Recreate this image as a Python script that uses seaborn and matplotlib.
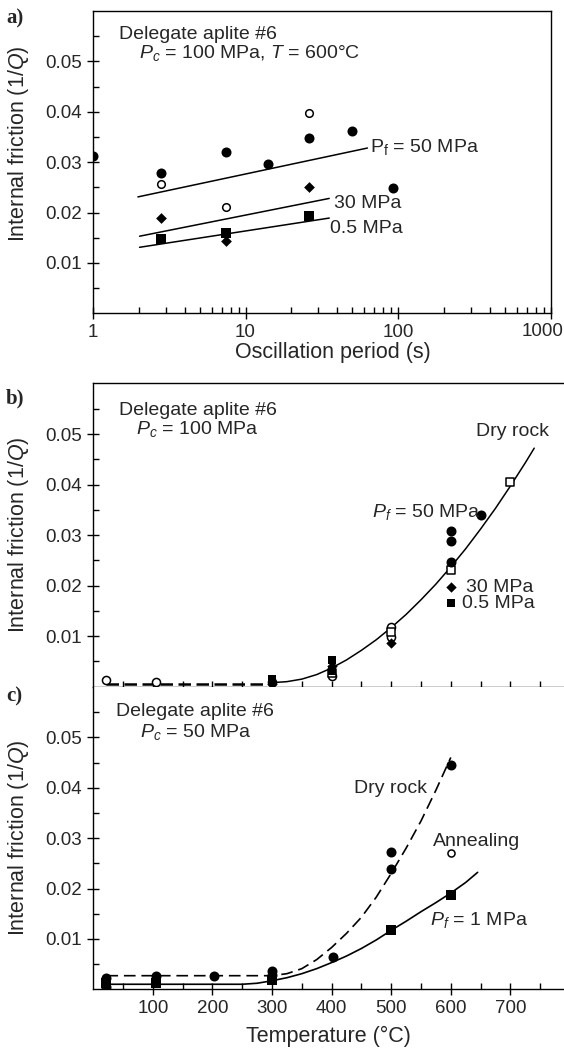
import matplotlib
matplotlib.use("Agg")
import matplotlib.pyplot as plt
import seaborn as sns
import pandas as pd

# ---------------- Panel a data (oscillation period vs 1/Q) ----------------
a_period_50 = [1.0, 2.8, 7.5, 14.0, 26.0, 50.0, 93.0]
a_q_50 = [0.0313, 0.0279, 0.0321, 0.0296, 0.0347, 0.0362, 0.0249]
a_period_open = [2.8, 7.5, 26.0]
a_q_open = [0.0256, 0.0210, 0.0398]
a_period_30 = [2.8, 7.5, 26.0]
a_q_30 = [0.0190, 0.0144, 0.0251]
a_period_05 = [2.8, 7.5, 26.0]
a_q_05 = [0.0147, 0.0159, 0.0193]
a_fit50_period = [1.97, 63.0]
a_fit50_q = [0.0231, 0.0328]
a_fit30_period = [2.02, 35.4]
a_fit30_q = [0.0153, 0.0228]
a_fit05_period = [2.02, 35.4]
a_fit05_q = [0.0131, 0.0189]

# ---------------- Panel b data (temperature, Pc = 100 MPa) ----------------
b_T_50 = [600, 600, 600, 650]
b_q_50 = [0.0309, 0.0288, 0.0247, 0.0339]
b_T_30 = [300, 400, 500, 600]
b_q_30 = [0.0005, 0.0040, 0.0086, 0.0198]
b_T_05 = [300, 400, 400, 600]
b_q_05 = [0.0015, 0.0053, 0.0031, 0.0165]
b_T_drysq = [400, 500, 600, 700]
b_q_drysq = [0.0028, 0.0109, 0.0230, 0.0405]
b_T_drycirc = [22, 106, 300, 400, 500, 500]
b_q_drycirc = [0.0013, 0.0009, 0.0010, 0.0021, 0.0119, 0.0099]
b_dash_T = [22, 300]
b_dash_q = [0.0006, 0.0006]
b_curve_T = [300, 325, 350, 375, 400, 425, 450, 475, 500, 525, 550, 575,
             600, 625, 650, 675, 700, 725, 740]
b_curve_q = [0.0008, 0.0010, 0.0015, 0.0024, 0.0037, 0.0053, 0.0072, 0.0093,
             0.0117, 0.0143, 0.0172, 0.0203, 0.0237, 0.0273, 0.0312, 0.0353,
             0.0397, 0.0443, 0.0472]

# ---------------- Panel c data (temperature, Pc = 50 MPa) ----------------
c_T_dry = [22, 22, 106, 203, 300, 300, 403, 500, 500, 600]
c_q_dry = [0.0022, 0.0005, 0.0026, 0.0026, 0.0037, 0.0028, 0.0065, 0.0273, 0.0239, 0.0445]
c_T_pf1 = [22, 106, 300, 500, 600]
c_q_pf1 = [0.0013, 0.0013, 0.0019, 0.0118, 0.0188]
c_T_anneal = [600]
c_q_anneal = [0.0270]
c_drycurve_T = [22, 300, 325, 350, 375, 400, 425, 450, 475, 500, 525, 550, 575, 600]
c_drycurve_q = [0.0027, 0.0027, 0.0031, 0.0041, 0.0059, 0.0083, 0.0111, 0.0143,
                0.0183, 0.0230, 0.0280, 0.0334, 0.0395, 0.0460]
c_pf1curve_T = [22, 250, 275, 300, 325, 350, 375, 400, 425, 450, 475, 500, 525,
                550, 575, 600, 625, 645]
c_pf1curve_q = [0.0010, 0.0010, 0.0012, 0.0017, 0.0023, 0.0031, 0.0041, 0.0053,
                0.0066, 0.0081, 0.0098, 0.0117, 0.0135, 0.0154, 0.0172, 0.0191,
                0.0212, 0.0232]

y_major = [0.01, 0.02, 0.03, 0.04, 0.05]
y_major_labels = ["0.01", "0.02", "0.03", "0.04", "0.05"]
y_minor = [0.005, 0.015, 0.025, 0.035, 0.045, 0.055]
t_major = [100, 200, 300, 400, 500, 600, 700]
t_minor = [50, 150, 250, 350, 450, 550, 650, 750]
p_major = [1, 10, 100, 1000]
p_major_labels = ["1", "10", "100", "1000"]
p_minor = [2, 3, 4, 5, 6, 7, 8, 9, 20, 30, 40, 50, 60, 70, 80, 90,
           200, 300, 400, 500, 600, 700, 800, 900]

sns.set_style("ticks")
plt.rcParams["font.family"] = ["Liberation Sans", "DejaVu Sans"]
plt.rcParams["mathtext.fontset"] = "custom"
plt.rcParams["mathtext.rm"] = "Liberation Sans"
plt.rcParams["mathtext.it"] = "Liberation Sans:italic"
plt.rcParams["axes.linewidth"] = 1.0
plt.rcParams["axes.edgecolor"] = "black"

W, H = 564, 1050
fig = plt.figure(figsize=(W / 100, H / 100), dpi=100)
fig.patch.set_facecolor("white")

def frame(l, t, r, b):
    return [l / W, 1 - b / H, (r - l) / W, (b - t) / H]

ax_a = fig.add_axes(frame(93, 11, 550.5, 313.3))
ax_b = fig.add_axes(frame(93.3, 383.5, 564, 686.7))
ax_c = fig.add_axes(frame(93.3, 686.9, 564, 989.3))

TICK_FS = 13.5
LABEL_FS = 15.5
ANN_FS = 14

def style_y(ax):
    ax.set_ylim(0, 0.06)
    ax.set_yticks(y_major)
    ax.set_yticklabels(y_major_labels)
    ax.set_yticks(y_minor, minor=True)
    ax.tick_params(axis="both", which="major", direction="inout", length=8,
                   width=1, labelsize=TICK_FS, pad=4, color="black")
    ax.tick_params(axis="both", which="minor", direction="in", length=4,
                   width=1, color="black")
    ax.set_facecolor("white")
    ax.grid(False)

def fill(ax, x, y, marker, s, face="black", lw=0.0):
    df = pd.DataFrame({"x": x, "y": y})
    sns.scatterplot(data=df, x="x", y="y", marker=marker, s=s, color=face,
                    edgecolor="black", linewidth=lw, ax=ax, zorder=3,
                    legend=False)

def line(ax, x, y, **kw):
    df = pd.DataFrame({"x": x, "y": y})
    sns.lineplot(data=df, x="x", y="y", estimator=None, sort=False,
                 color="black", ax=ax, zorder=2, legend=False, **kw)

# ---------------- Panel a ----------------
ax = ax_a
ax.set_xscale("log")
line(ax, a_fit50_period, a_fit50_q, linewidth=1.1)
line(ax, a_fit30_period, a_fit30_q, linewidth=1.1)
line(ax, a_fit05_period, a_fit05_q, linewidth=1.1)
fill(ax, a_period_50, a_q_50, "o", 52)
fill(ax, a_period_open, a_q_open, "o", 30, face="white", lw=1.1)
fill(ax, a_period_30, a_q_30, "D", 30)
fill(ax, a_period_05, a_q_05, "s", 45)
ax.set_xlim(1, 1000)
ax.set_xticks(p_major)
# last label is drawn separately (shifted left so it stays inside the figure)
ax.set_xticklabels(p_major_labels[:-1] + [""])
ax.set_xticks(p_minor, minor=True)
ax.xaxis.set_minor_formatter(plt.NullFormatter())
style_y(ax)
ax.annotate(p_major_labels[-1], xy=(p_major[-1], 0), xycoords=("data", "axes fraction"),
            xytext=(-6, -6.9), textcoords="offset points", ha="center", va="top",
            fontsize=TICK_FS, annotation_clip=False)
for sp in ax.spines.values():
    sp.set_visible(True)
    sp.set_linewidth(1.0)
ax.set_xlabel("Oscillation period (s)", fontsize=LABEL_FS)
ax.xaxis.set_label_coords(0.524, -0.095)
ax.xaxis.label.set_va("top")
ax.set_ylabel(r"Internal friction (1/$Q$)", fontsize=LABEL_FS)
ax.yaxis.set_label_coords(-0.135, 0.56)
ax.yaxis.label.set_va("bottom")
ax.text(0.056, 0.921, "Delegate aplite #6", transform=ax.transAxes,
        fontsize=ANN_FS, va="center", ha="left")
ax.text(0.0995, 0.860, r"$P_c$ = 100 MPa, $T$ = 600°C", transform=ax.transAxes,
        fontsize=ANN_FS, va="center", ha="left")
ax.text(66, 0.0331, r"$\mathrm{P_f}$ = 50 MPa", fontsize=ANN_FS, va="center", ha="left")
ax.text(38, 0.0218, "30 MPa", fontsize=ANN_FS, va="center", ha="left")
ax.text(36, 0.0169, "0.5 MPa", fontsize=ANN_FS, va="center", ha="left")

# ---------------- Panel b ----------------
ax = ax_b
line(ax, b_dash_T, b_dash_q, linewidth=1.8, dashes=(5, 2.2))
line(ax, b_curve_T, b_curve_q, linewidth=1.1)
fill(ax, b_T_drycirc, b_q_drycirc, "o", 34, face="white", lw=1.1)
fill(ax, b_T_drysq, b_q_drysq, "s", 34, face="white", lw=1.1)
fill(ax, b_T_30, b_q_30, "D", 28)
fill(ax, b_T_05, b_q_05, "s", 40)
fill(ax, b_T_50, b_q_50, "o", 52)
ax.set_xlim(0, 790)
ax.set_xticks(t_major)
ax.set_xticks(t_minor, minor=True)
style_y(ax)
ax.tick_params(axis="x", which="both", labelbottom=False)
ax.spines["right"].set_visible(False)
ax.spines["top"].set_visible(True)
ax.set_xlabel("")
ax.set_ylabel(r"Internal friction (1/$Q$)", fontsize=LABEL_FS)
ax.yaxis.set_label_coords(-0.132, 0.5)
ax.yaxis.label.set_va("bottom")
ax.text(42.6, 0.0546, "Delegate aplite #6", fontsize=ANN_FS, va="center", ha="left")
ax.text(71.6, 0.0509, r"$P_c$ = 100 MPa", fontsize=ANN_FS, va="center", ha="left")
ax.text(643, 0.0506, "Dry rock", fontsize=ANN_FS, va="center", ha="left")
ax.text(467, 0.0346, r"$P_f$ = 50 MPa", fontsize=ANN_FS, va="center", ha="left")
ax.text(626, 0.0197, "30 MPa", fontsize=ANN_FS, va="center", ha="left")
ax.text(618, 0.0164, "0.5 MPa", fontsize=ANN_FS, va="center", ha="left")

# ---------------- Panel c ----------------
ax = ax_c
line(ax, c_drycurve_T, c_drycurve_q, linewidth=1.2, dashes=(7, 3.5))
line(ax, c_pf1curve_T, c_pf1curve_q, linewidth=1.2)
fill(ax, c_T_pf1, c_q_pf1, "s", 45)
fill(ax, c_T_dry, c_q_dry, "o", 52)
fill(ax, c_T_anneal, c_q_anneal, "o", 26, face="white", lw=1.1)
ax.set_xlim(0, 790)
ax.set_xticks(t_major)
ax.set_xticklabels([str(t) for t in t_major])
ax.set_xticks(t_minor, minor=True)
style_y(ax)
ax.spines["right"].set_visible(False)
ax.spines["top"].set_visible(False)
ax.set_xlabel("Temperature (°C)", fontsize=LABEL_FS)
ax.xaxis.set_label_coords(0.499, -0.122)
ax.xaxis.label.set_va("top")
ax.set_ylabel(r"Internal friction (1/$Q$)", fontsize=LABEL_FS)
ax.yaxis.set_label_coords(-0.132, 0.5)
ax.yaxis.label.set_va("bottom")
ax.text(37.8, 0.0551, "Delegate aplite #6", fontsize=ANN_FS, va="center", ha="left")
ax.text(78.9, 0.0511, r"$P_c$ = 50 MPa", fontsize=ANN_FS, va="center", ha="left")
ax.text(438, 0.0399, "Dry rock", fontsize=ANN_FS, va="center", ha="left")
ax.text(570, 0.0293, "Annealing", fontsize=ANN_FS, va="center", ha="left")
ax.text(565, 0.0137, r"$P_f$ = 1 MPa", fontsize=ANN_FS, va="center", ha="left")

for lab, ytop in (("a)", 8), ("b)", 388), ("c)", 686)):
    fig.text(6 / W, 1 - ytop / H, lab, fontsize=15, fontweight="bold",
             family="Liberation Serif", va="top", ha="left")

fig.savefig("out.png", dpi=100, facecolor="white")
